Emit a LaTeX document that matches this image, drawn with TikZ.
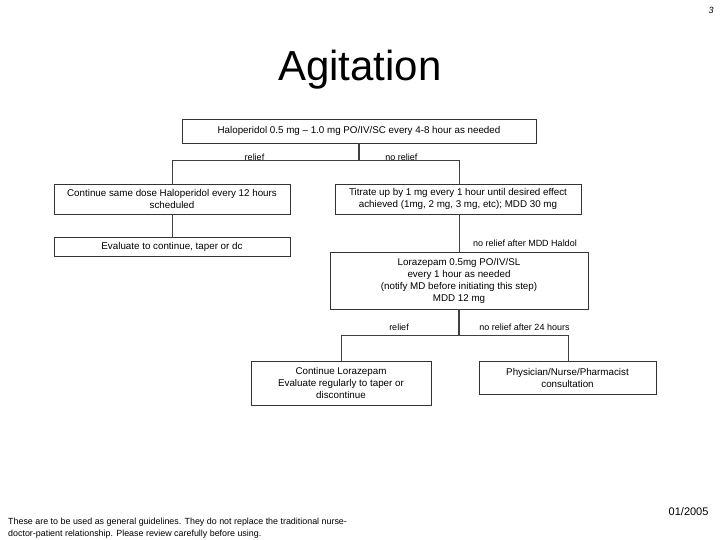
\documentclass[tikz,border=0pt]{standalone}
\usepackage{fontspec}
\setmainfont{Liberation Sans}
\begin{document}
\begin{tikzpicture}[x=1pt,y=-1pt,
  box/.style={draw=black!80,line width=0.8pt,inner sep=0pt,font=\fontsize{9.8}{12}\selectfont,align=center},
  lbl/.style={font=\fontsize{9}{10}\selectfont,inner sep=0pt},
  conn/.style={draw=black!75,line width=0.8pt},
  thick conn/.style={draw=black!75,line width=1.8pt}]
\useasboundingbox[fill=white] (0,0) rectangle (720,540);
\node[font=\fontsize{42}{48}\selectfont] (title) at (360,70) {Agitation};
\node[font=\fontsize{9}{10}\selectfont\itshape] (pg) at (711,10) {3};
\node[font=\fontsize{11}{13}\selectfont,anchor=east] (date) at (712,512) {01/2005};
\node[font=\fontsize{8.9}{12}\selectfont,align=left,anchor=north west,inner sep=0pt] (foot) at (8,517.5) {These are to be used as general guidelines. They do not replace the traditional nurse-\\doctor-patient relationship. Please review carefully before using.};

\node[box,minimum width=354,minimum height=24] (halo) at (359,131) {Haloperidol 0.5 mg -- 1.0 mg PO/IV/SC every 4-8 hour as needed};
\node[box,minimum width=236,minimum height=30] (cont) at (172,199) {Continue same dose Haloperidol every 12 hours\\scheduled};
\node[box,minimum width=236,minimum height=19] (eval) at (172,246.5) {Evaluate to continue, taper or dc};
\node[box,minimum width=246,minimum height=30] (titr) at (458,199) {Titrate up by 1 mg every 1 hour until desired effect\\achieved (1mg, 2 mg, 3 mg, etc); MDD 30 mg};
\node[box,minimum width=258,minimum height=57] (lora) at (459,280.5) {Lorazepam 0.5mg PO/IV/SL\\every 1 hour as needed\\(notify MD before initiating this step)\\MDD 12 mg};
\node[box,minimum width=180,minimum height=44] (clor) at (341,383) {Continue Lorazepam\\Evaluate regularly to taper or\\discontinue};
\node[box,minimum width=177,minimum height=33] (phys) at (567.5,377.5) {Physician/Nurse/Pharmacist\\consultation};

\coordinate (j1) at (359,160);
\coordinate (j1l) at (172,160);
\coordinate (j1r) at (459,160);
\draw[thick conn] (halo.south) -- (j1);
\draw[conn] (j1l) -- (j1r);
\draw[conn] (j1l) -- (cont.north);
\draw[conn] (j1r) -- (j1r |- titr.north);
\draw[conn] (cont.south) -- (eval.north);
\draw[conn] (titr.south -| lora.north) -- (lora.north);

\coordinate (j2) at (459,335);
\coordinate (j2l) at (341,335);
\coordinate (j2r) at (568,335);
\draw[thick conn] (lora.south) -- (j2);
\draw[conn] (j2l) -- (j2r);
\draw[conn] (j2l) -- (clor.north);
\draw[conn] (j2r) -- (j2r |- phys.north);

\node[lbl] (l1) at (254.5,157) {relief};
\node[lbl] (l2) at (401.5,157) {no relief};
\node[lbl] (l3) at (525,243) {no relief after MDD Haldol};
\node[lbl] (l4) at (399,327) {relief};
\node[lbl] (l5) at (524.5,327) {no relief after 24 hours};
\end{tikzpicture}
\end{document}
